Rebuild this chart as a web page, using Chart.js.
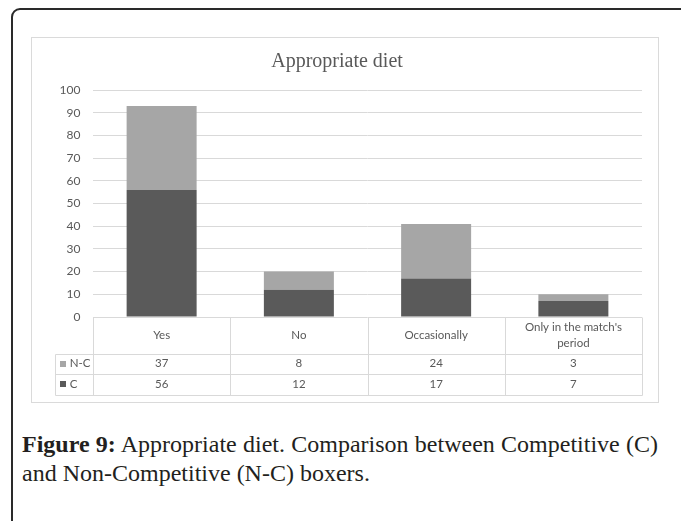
<!DOCTYPE html>
<html>
<head>
<meta charset="utf-8">
<script src="https://cdn.jsdelivr.net/npm/chart.js@4/dist/chart.umd.min.js"></script>
<style>
  html, body { margin: 0; padding: 0; background: #fff; width: 681px; height: 521px; overflow: hidden; }
  #outer { position: absolute; left: 10.5px; top: 8px; width: 720px; height: 560px; border: 2px solid #2a2a2a; border-radius: 9px; box-sizing: border-box; }
  #box { position: absolute; left: 31px; top: 37px; width: 628px; height: 366px; border: 1px solid #dadada; box-sizing: border-box; background: #fff; }
  #box canvas { display: block; }
  #caption { position: absolute; left: 22px; top: 430px; width: 636px; font-family: "Liberation Serif", serif; font-size: 24px; line-height: 29px; color: #231f20; text-align: justify; text-align-last: left; }
  #caption b { font-weight: bold; }
</style>
</head>
<body>
<div id="outer"></div>
<div id="box"><canvas id="c" width="626" height="364"></canvas></div>
<div id="caption"><b>Figure 9:</b> Appropriate diet. Comparison between Competitive (C) and Non-Competitive (N-C) boxers.</div>
<script>
const chartTitle = 'Appropriate diet';
const categories = ['Yes', 'No', 'Occasionally', "Only in the match's period"];
const seriesNames = ['C', 'N-C'];
const valuesC = [56, 12, 17, 7];
const valuesNC = [37, 8, 24, 3];
const yTicks = [0, 10, 20, 30, 40, 50, 60, 70, 80, 90, 100];

const colorC = '#5a5a5a';
const colorNC = '#a6a6a6';
const gridColor = '#d9d9d9';
const textColor = '#595959';
const tickFont = { family: 'Lato', size: 12 };

function wrapText(ctx, text, maxW) {
  const words = text.split(' ');
  const lines = [];
  let cur = '';
  for (const w of words) {
    const t = cur ? cur + ' ' + w : w;
    if (ctx.measureText(t).width > maxW && cur) { lines.push(cur); cur = w; }
    else cur = t;
  }
  if (cur) lines.push(cur);
  return lines;
}

const tablePlugin = {
  id: 'dataTable',
  afterDraw(chart) {
    const { ctx, chartArea, scales } = chart;
    const x = scales.x;
    const left = chartArea.left, right = chartArea.right, top = chartArea.bottom;
    const n = categories.length;
    const cw = (right - left) / n;
    const r1 = top + 36.5, r2 = r1 + 20.5, r3 = r2 + 20.5;
    const legLeft = left - 38.3;
    const px = v => Math.round(v) + 0.5;
    ctx.save();
    ctx.strokeStyle = gridColor;
    ctx.lineWidth = 1;
    ctx.beginPath();
    [r1, r2, r3].forEach(y => { ctx.moveTo(px(legLeft), px(y)); ctx.lineTo(px(right), px(y)); });
    ctx.moveTo(px(legLeft), px(r1)); ctx.lineTo(px(legLeft), px(r3));
    for (let i = 0; i <= n; i++) {
      const xx = px(left + i * cw);
      ctx.moveTo(xx, px(top)); ctx.lineTo(xx, px(r3));
    }
    ctx.stroke();

    ctx.fillStyle = textColor;
    ctx.font = `11.5px ${tickFont.family}`;
    ctx.textAlign = 'center';
    ctx.textBaseline = 'middle';
    categories.forEach((cat, i) => {
      const cx = x.getPixelForValue(i);
      const lines = wrapText(ctx, cat, cw - 16);
      const lh = 16.5;
      const mid = (top + r1) / 2;
      lines.forEach((ln, j) => {
        ctx.fillText(ln, cx, mid + (j - (lines.length - 1) / 2) * lh);
      });
      ctx.fillText(String(valuesNC[i]), cx, (r1 + r2) / 2);
      ctx.fillText(String(valuesC[i]), cx, (r2 + r3) / 2);
    });
    const rows = [[seriesNames[1], colorNC, (r1 + r2) / 2], [seriesNames[0], colorC, (r2 + r3) / 2]];
    ctx.textAlign = 'left';
    rows.forEach(([name, col, y]) => {
      ctx.fillStyle = col;
      ctx.fillRect(Math.round(legLeft + 5.5), Math.round(y - 3), 6, 6);
      ctx.fillStyle = textColor;
      ctx.fillText(name, legLeft + 15, y);
    });
    ctx.restore();
  }
};

new Chart(document.getElementById('c'), {
  type: 'bar',
  data: {
    labels: categories,
    datasets: [
      { label: seriesNames[0], data: valuesC, backgroundColor: colorC, barPercentage: 0.51, categoryPercentage: 1 },
      { label: seriesNames[1], data: valuesNC, backgroundColor: colorNC, barPercentage: 0.51, categoryPercentage: 1 }
    ]
  },
  options: {
    responsive: false,
    animation: false,
    layout: { padding: { left: 0, right: 16, top: 0, bottom: 85 } },
    plugins: {
      legend: { display: false },
      tooltip: { enabled: false },
      title: {
        display: true,
        text: chartTitle,
        color: textColor,
        font: { family: 'Liberation Serif', size: 20, weight: 'normal' },
        padding: { top: 11.5, bottom: 16.5 }
      }
    },
    scales: {
      x: { stacked: true, display: false },
      y: {
        stacked: true,
        min: 0, max: 100,
        afterFit(scale) { scale.width = 61; },
        afterBuildTicks(scale) { scale.ticks = yTicks.map(v => ({ value: v })); },
        border: { display: false },
        grid: { color: gridColor, lineWidth: 1, drawTicks: false },
        ticks: { color: textColor, font: tickFont, padding: 12.5, stepSize: 10 }
      }
    }
  },
  plugins: [tablePlugin]
});
</script>
</body>
</html>
